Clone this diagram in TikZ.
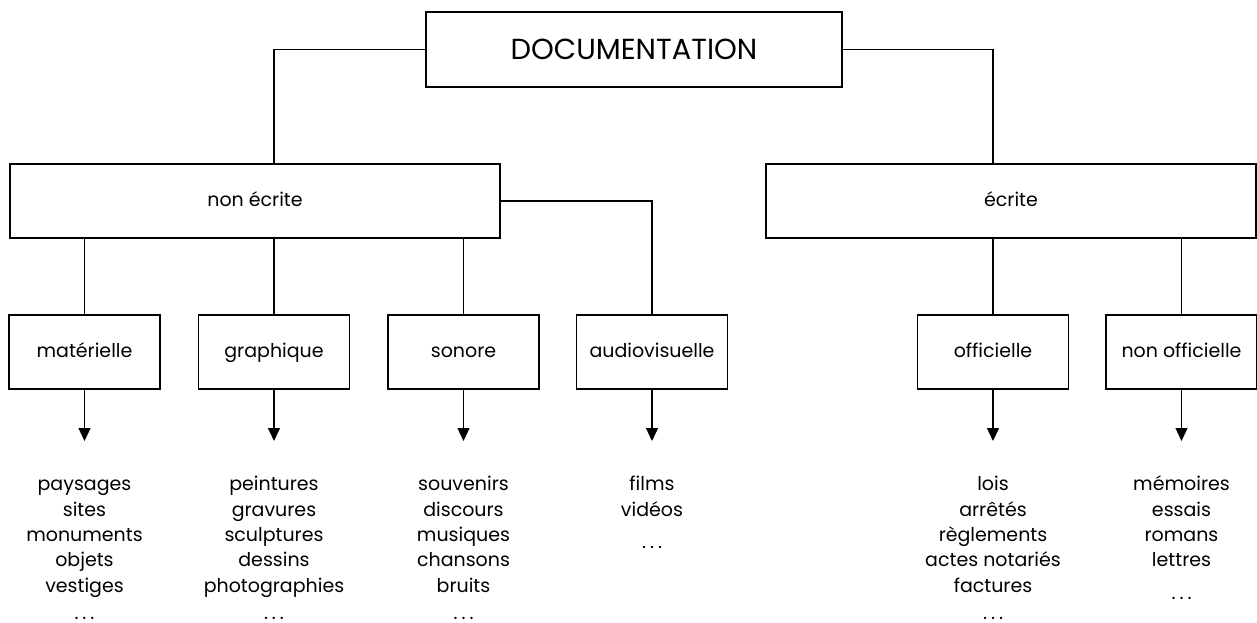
\documentclass[tikz,border=0pt]{standalone}
\usepackage{fontspec}
\setmainfont{Poppins}
\usetikzlibrary{arrows.meta}
\newcommand{\mydots}{.\kern4pt.\kern4pt.}
\tikzset{
  every node/.style={font=\fontsize{19}{25.3}\selectfont},
  topbox/.style={draw, line width=1.3pt, minimum width=416pt, minimum height=75pt, inner sep=0pt, font=\fontsize{29}{35}\selectfont},
  midbox/.style={draw, line width=1.3pt, minimum width=490pt, minimum height=74pt, inner sep=0pt, text height=14pt, text depth=4pt},
  leafbox/.style={draw, line width=1.3pt, minimum width=151pt, minimum height=74pt, inner sep=0pt, text height=14pt, text depth=4pt},
  conn/.style={line width=1.3pt},
  arr/.style={line width=1.3pt, -{Triangle[width=12pt,length=13pt]}},
  listtext/.style={anchor=north, align=center, inner sep=0pt}
}
\begin{document}
\begin{tikzpicture}[x=1pt,y=-1pt]
\useasboundingbox (0,0) rectangle (1257,623);
% boxes
\node[topbox] (doc) at (634,49.5) {DOCUMENTATION};
\node[midbox] (ne) at (255,201) {non écrite};
\node[midbox] (ec) at (1011,201) {écrite};
\node[leafbox] (mat) at (84.5,352) {matérielle};
\node[leafbox] (gra) at (274,352) {graphique};
\node[leafbox] (son) at (463.5,352) {sonore};
\node[leafbox] (aud) at (652,352) {audiovisuelle};
\node[leafbox] (off) at (993,352) {officielle};
\node[leafbox] (nof) at (1181.5,352) {non officielle};
% connectors
\draw[conn] (doc.west) -| (ne.north -| gra.north);
\draw[conn] (doc.east) -| (ec.north -| off.north);
\draw[conn] (ne.south -| mat.north) -- (mat.north);
\draw[conn] (ne.south -| gra.north) -- (gra.north);
\draw[conn] (ne.south -| son.north) -- (son.north);
\draw[conn] (ne.east) -| (aud.north);
\draw[conn] (ec.south -| off.north) -- (off.north);
\draw[conn] (ec.south -| nof.north) -- (nof.north);
% arrow tips
\coordinate (matT) at (84.5,441);
\coordinate (graT) at (274,441);
\coordinate (sonT) at (463.5,441);
\coordinate (audT) at (652,441);
\coordinate (offT) at (993,441);
\coordinate (nofT) at (1181.5,441);
\draw[arr] (mat.south) -- (matT);
\draw[arr] (gra.south) -- (graT);
\draw[arr] (son.south) -- (sonT);
\draw[arr] (aud.south) -- (audT);
\draw[arr] (off.south) -- (offT);
\draw[arr] (nof.south) -- (nofT);
% lists
\node[listtext] (matL) at (84.5,473) {\strut paysages\\ \strut sites\\ \strut monuments\\ \strut objets\\ \strut vestiges\\[2pt] \mydots};
\node[listtext] (graL) at (274,473) {\strut peintures\\ \strut gravures\\ \strut sculptures\\ \strut dessins\\ \strut photographies\\[2pt] \mydots};
\node[listtext] (sonL) at (463.5,473) {\strut souvenirs\\ \strut discours\\ \strut musiques\\ \strut chansons\\ \strut bruits\\[2pt] \mydots};
\node[listtext] (audL) at (652,473) {\strut films\\ \strut vidéos\\[7pt] \mydots};
\node[listtext] (offL) at (993,473) {\strut lois\\ \strut arrêtés\\ \strut règlements\\ \strut actes notariés\\ \strut factures\\[2pt] \mydots};
\node[listtext] (nofL) at (1181.5,473) {\strut mémoires\\ \strut essais\\ \strut romans\\ \strut lettres\\[7pt] \mydots};
\end{tikzpicture}
\end{document}
